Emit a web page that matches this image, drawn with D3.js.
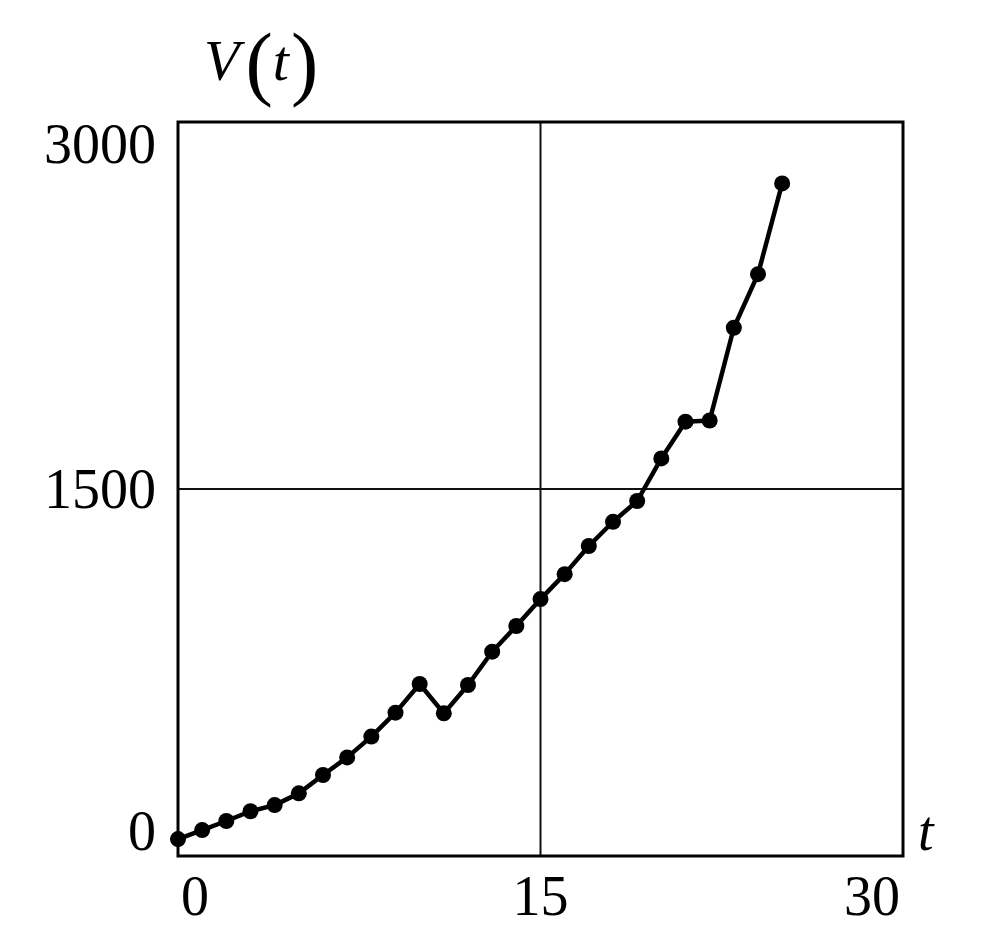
<!DOCTYPE html>
<html><head><meta charset="utf-8">
<script src="https://cdn.jsdelivr.net/npm/d3@7"></script>
<style>body{margin:0;background:#fff;} svg{display:block;}</style>
</head><body>
<svg id="c" width="990" height="951"></svg>
<script>
const tValues = [0,1,2,3,4,5,6,7,8,9,10,11,12,13,14,15,16,17,18,19,20,21,22,23,24,25];
const vValues = [69,106,143,183,208,256,331,403,488,586,703,583,699,835,940,1050,1152,1267,1366,1451,1625,1775,1780,2159,2378,2749];
const xTicks = [0,15,30];
const yTicks = [0,1500,3000];

const svg = d3.select('#c');
const L=178, R=903, T=122, B=856;
const x = d3.scaleLinear().domain([0,30]).range([L,R]);
const y = d3.scaleLinear().domain([0,3000]).range([B,T]);
const font = '"Liberation Serif","Times New Roman",serif';

// grid lines at middle ticks
svg.append('g').selectAll('line').data(xTicks.slice(1,-1)).join('line')
  .attr('x1',d=>x(d)).attr('x2',d=>x(d)).attr('y1',T).attr('y2',B)
  .attr('stroke','#111').attr('stroke-width',2);
svg.append('g').selectAll('line').data(yTicks.slice(1,-1)).join('line')
  .attr('y1',d=>y(d)).attr('y2',d=>y(d)).attr('x1',L).attr('x2',R)
  .attr('stroke','#111').attr('stroke-width',2);

// frame
svg.append('rect').attr('x',L).attr('y',T).attr('width',R-L).attr('height',B-T)
  .attr('fill','none').attr('stroke','#000').attr('stroke-width',3);

// x tick labels
svg.append('g').selectAll('text').data(xTicks).join('text')
  .attr('x',(d,i)=> i===0 ? x(d)+3 : (i===xTicks.length-1 ? x(d)-3 : x(d)))
  .attr('y',915)
  .attr('text-anchor',(d,i)=> i===0 ? 'start' : (i===xTicks.length-1 ? 'end':'middle'))
  .attr('font-family',font).attr('font-size',56).text(d=>d);

// y tick labels
svg.append('g').selectAll('text').data(yTicks).join('text')
  .attr('x',156)
  .attr('y',(d,i)=> i===0 ? y(d)-6 : (i===yTicks.length-1 ? y(d)+41 : y(d)+19))
  .attr('text-anchor','end')
  .attr('font-family',font).attr('font-size',56).text(d=>d);

// axis titles
const yt = svg.append('text').attr('x',204).attr('y',80).attr('font-family',font).attr('font-size',58);
yt.append('tspan').attr('font-style','italic').text('V');
yt.append('tspan').attr('dx',6).attr('font-size',82).attr('dy',10).text('(');
yt.append('tspan').attr('font-style','italic').attr('font-size',58).attr('dy',-10).text('t');
yt.append('tspan').attr('font-size',82).attr('dx',2).attr('dy',10).text(')');
svg.append('text').attr('x',918).attr('y',850).attr('font-family',font)
  .attr('font-style','italic').attr('font-size',56).text('t');

// data line
const data = tValues.map((t,i)=>({t, v:vValues[i]}));
svg.append('path').datum(data)
  .attr('d', d3.line().x(d=>x(d.t)).y(d=>y(d.v)))
  .attr('fill','none').attr('stroke','#000').attr('stroke-width',4.5).attr('stroke-linejoin','round');
svg.append('g').selectAll('circle').data(data).join('circle')
  .attr('cx',d=>x(d.t)).attr('cy',d=>y(d.v)).attr('r',8).attr('fill','#000');
</script>
</body></html>
